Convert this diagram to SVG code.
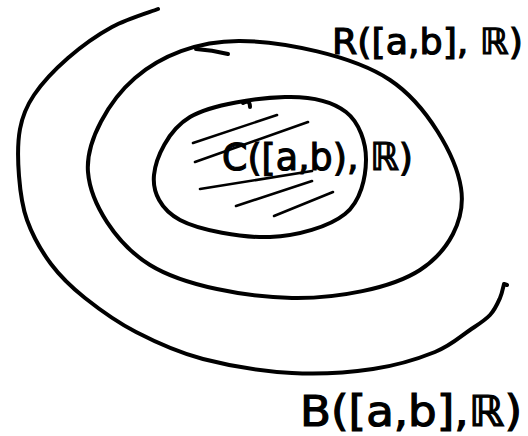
<svg xmlns="http://www.w3.org/2000/svg" width="528" height="436" viewBox="0 0 528 436">
<style>
.ring{fill:none;stroke:#000;stroke-width:4;stroke-linecap:round;stroke-linejoin:round}
.hatch{fill:none;stroke:#000;stroke-width:2.6;stroke-linecap:round}
.lbl{font-family:"DejaVu Sans","Liberation Sans",sans-serif;fill:#000;stroke:#000;stroke-width:1.2}
</style>
<rect width="528" height="436" fill="#fff"/>
<g id="connectors"/>
<g id="node-B">
<path class="ring" d="M158,9 C150.3,12 127,18.8 112,27 C97,35.2 81,46.7 68,58 C55,69.3 42,83.2 34,95 C26,106.8 22.5,115.5 20,129 C17.5,142.5 17.8,160.8 19,176 C20.2,191.2 21.7,205.3 27,220 C32.3,234.7 41.3,251 51,264 C60.7,277 70.8,286.7 85,298 C99.2,309.3 116.3,321.8 136,332 C155.7,342.2 177,352.2 203,359 C229,365.8 263.7,371.3 292,373 C320.3,374.7 349.2,372.5 373,369 C396.8,365.5 418.8,358.5 435,352 C451.2,345.5 460.8,336.2 470,330 C479.2,323.8 485,320.3 490,315 C495,309.7 497.7,303.2 500,298 C502.3,292.8 503.3,286.3 504,284 l3,1"/>
<text class="lbl" x="300" y="426" font-size="42" textLength="222" lengthAdjust="spacingAndGlyphs">B([a,b],ℝ)</text>
</g>
<g id="node-R">
<path class="ring" d="M240,41 C282.5,41.3 353.2,55.5 390,80 C426.8,104.5 456,156.3 461,188 C466,219.7 448.2,251.7 420,270 C391.8,288.3 337,298.8 292,298 C247,297.2 184,286 150,265 C116,244 90.5,203.2 88,172 C85.5,140.8 109.7,99.8 135,78 C160.3,56.2 197.5,40.7 240,41 Z"/>
<path class="ring" d="M196,49 Q212,50 228,54"/>
<text class="lbl" x="332" y="54" font-size="36" textLength="191" lengthAdjust="spacingAndGlyphs">R([a,b], ℝ)</text>
</g>
<g id="node-C">
<path class="ring" d="M285,97 C311,96.2 332.5,101.5 346,112 C359.5,122.5 366.2,143 366,160 C365.8,177 361,201.2 345,214 C329,226.8 297.5,236 270,237 C242.5,238 199.3,230.3 180,220 C160.7,209.7 152.3,192.2 154,175 C155.7,157.8 168.2,130 190,117 C211.8,104 259,97.8 285,97 Z"/>
<path class="ring" d="M243,103 Q250,99 250,107"/>
<g class="hatch">
<line x1="193" y1="143" x2="277" y2="115"/>
<line x1="195" y1="162" x2="308" y2="122"/>
<line x1="200" y1="189" x2="312" y2="171"/>
<line x1="236" y1="206" x2="312" y2="181"/>
<line x1="274" y1="216" x2="333" y2="192"/>
</g>
<text class="lbl" x="222" y="170" font-size="38" textLength="191" lengthAdjust="spacingAndGlyphs">C([a,b), ℝ)</text>
</g>
</svg>
